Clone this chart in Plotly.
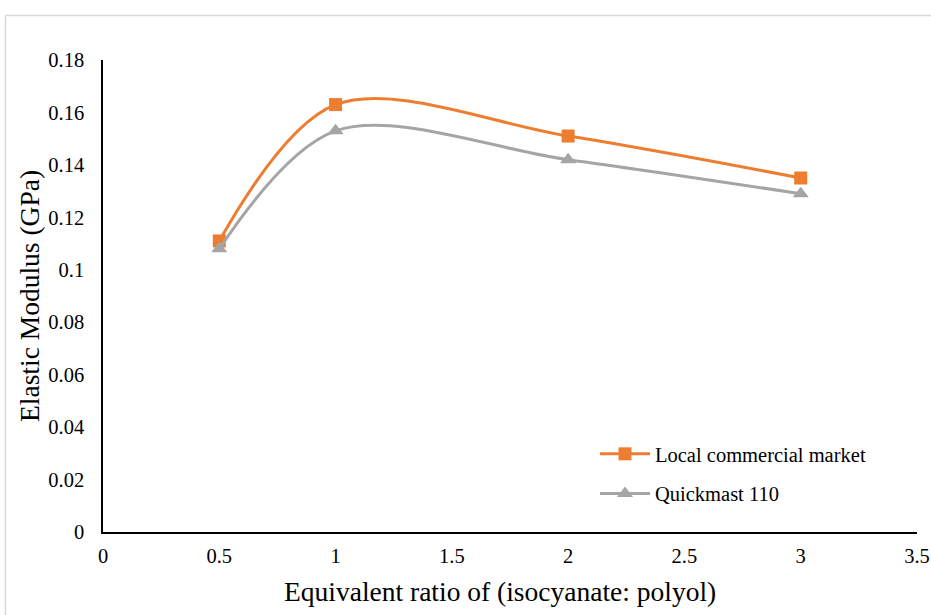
import plotly.graph_objects as go

# Equivalent ratio (isocyanate : polyol)
ratios = [0.5, 1, 2, 3]
local_market = [0.111, 0.163, 0.151, 0.135]
quickmast_110 = [0.108, 0.153, 0.142, 0.129]

x_ticks = [0, 0.5, 1, 1.5, 2, 2.5, 3, 3.5]
y_ticks = [0, 0.02, 0.04, 0.06, 0.08, 0.1, 0.12, 0.14, 0.16, 0.18]

ORANGE = "#ED7D31"
GRAY = "#A5A5A5"
FONT = "Liberation Serif"

W, H = 931, 615
L, R, T, B = 103, 14, 60, 83
PW, PH = W - L - R, H - T - B

fig = go.Figure()
fig.add_trace(go.Scatter(
    x=ratios, y=local_market, name="Local commercial market",
    mode="lines+markers", legendgroup="local",
    line=dict(color=ORANGE, width=3, shape="spline", smoothing=0.95),
    marker=dict(symbol="square", size=13, color=ORANGE),
))
fig.add_trace(go.Scatter(
    x=ratios, y=quickmast_110, name="Quickmast 110",
    mode="lines+markers", legendgroup="quickmast",
    line=dict(color=GRAY, width=3, shape="spline", smoothing=0.95),
    marker=dict(symbol="triangle-up", size=14, color=GRAY),
))

axis_common = dict(
    showgrid=False, zeroline=False, showline=True, automargin=False,
    linecolor="black", linewidth=1.5, ticks="",
    tickfont=dict(family=FONT, size=20.5, color="black"),
)

fig.update_layout(
    width=W, height=H,
    margin=dict(l=L, r=R, t=T, b=B),
    paper_bgcolor="white", plot_bgcolor="white",
    font=dict(family=FONT, color="black"),
    xaxis=dict(
        range=[0, 3.5], tickvals=x_ticks,
        ticktext=[f"{v:g}" for v in x_ticks],
        ticklabelstandoff=5,
        **axis_common,
    ),
    yaxis=dict(
        range=[0, 0.18], tickvals=y_ticks,
        ticktext=[f"{v:g}" for v in y_ticks],
        ticklabelstandoff=13,
        **axis_common,
    ),
    legend=dict(
        x=(595 - L) / PW, y=(H - B - 434) / PH, xanchor="left", yanchor="top",
        font=dict(family=FONT, size=20.5, color="black"),
        itemwidth=50, tracegroupgap=10,
        bgcolor="rgba(0,0,0,0)",
    ),
    showlegend=True,
)

# axis titles, centred on the chart area
fig.add_annotation(
    text="Equivalent ratio of (isocyanate: polyol)",
    xref="paper", yref="paper",
    x=(500 - L) / PW, y=(H - B - 591) / PH,
    xanchor="center", yanchor="middle", showarrow=False,
    font=dict(family=FONT, size=27.5, color="black"),
)
fig.add_annotation(
    text="Elastic Modulus (GPa)",
    xref="paper", yref="paper",
    x=(29 - L) / PW, y=(H - B - 296) / PH,
    xanchor="center", yanchor="middle", showarrow=False, textangle=-90,
    font=dict(family=FONT, size=27.5, color="black"),
)

# light outer frame of the chart area
fig.add_shape(
    type="rect", xref="paper", yref="paper",
    x0=(5.5 - L) / PW, y0=(H - B - 625) / PH,
    x1=(940 - L) / PW, y1=(H - B - 15.5) / PH,
    line=dict(color="#D9D9D9", width=1.5), layer="below",
)

fig.write_html("out.html")
